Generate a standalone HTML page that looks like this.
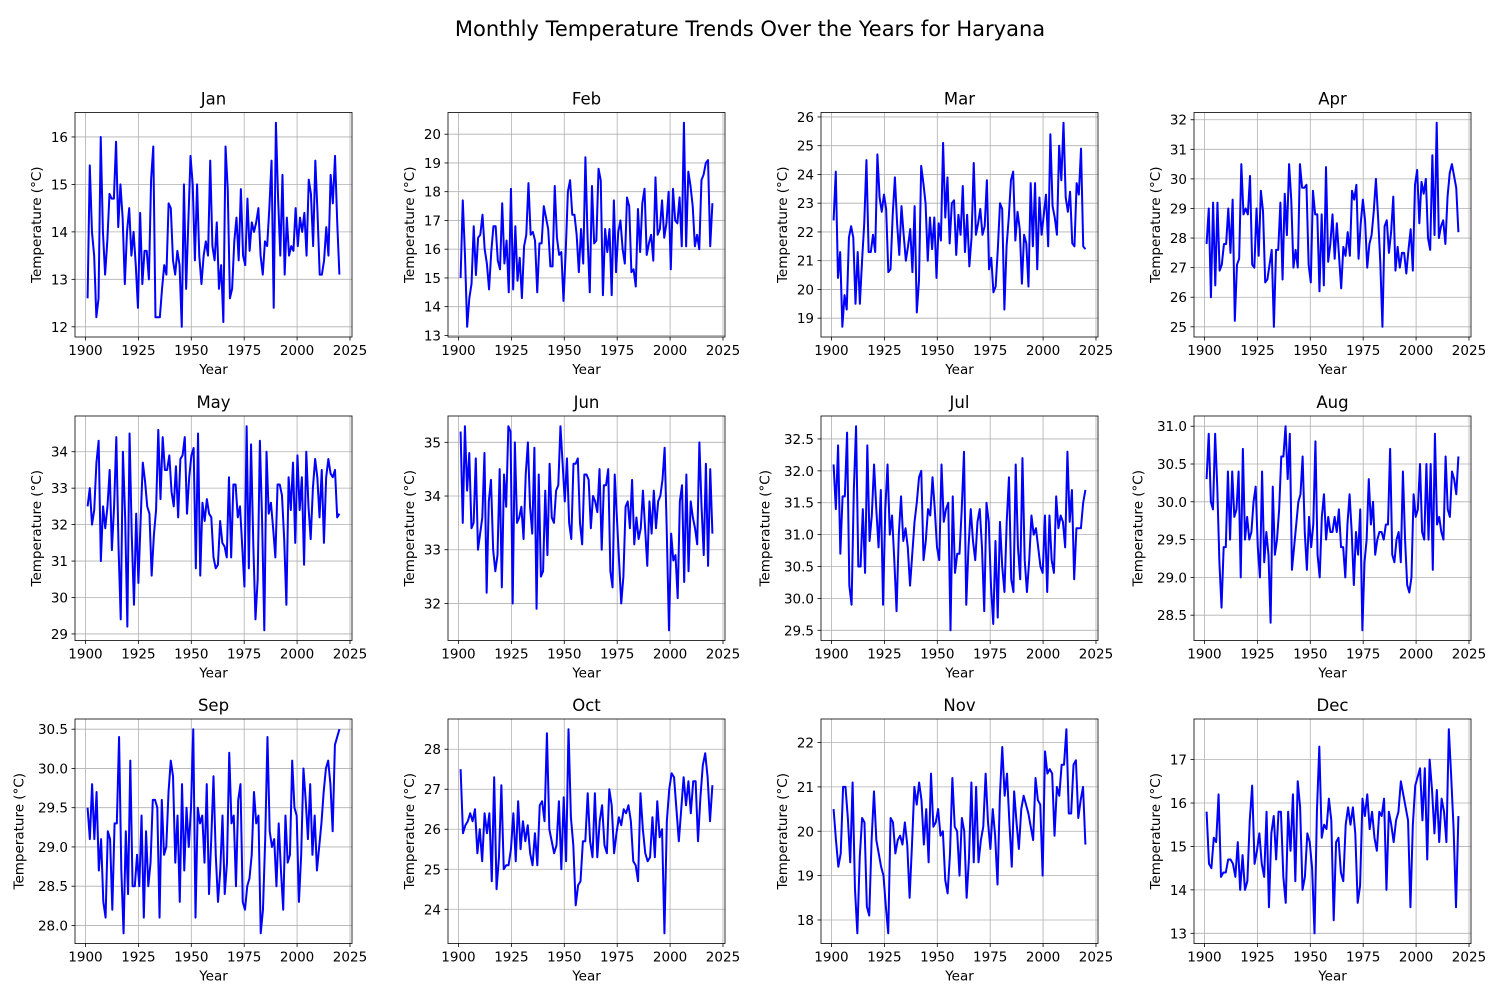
<!DOCTYPE html>
<html><head><meta charset="utf-8">
<style>
body{margin:0;background:#fff;}
svg{display:block;font-family:"DejaVu Sans","Liberation Sans",sans-serif;}
</style></head>
<body>
<svg id="fig" width="1500" height="1000" viewBox="0 0 1500 1000">
<rect width="1500" height="1000" fill="#fff"/>
<text x="750" y="36" text-anchor="middle" font-size="21" fill="#000">Monthly Temperature Trends Over the Years for Haryana</text>
</svg>
<script>
const months = ["Jan","Feb","Mar","Apr","May","Jun","Jul","Aug","Sep","Oct","Nov","Dec"];
const xTicks = [1900,1925,1950,1975,2000,2025];
const startYear = 1901;
const endYear = 2020;
const janVals = [12.6,15.4,14,13.5,12.2,12.6,16,14,13.1,13.8,14.8,14.7,14.7,15.9,14.1,15,14.3,12.9,14,14.5,13.5,14,13.3,12.4,14.4,12.9,13.6,13.6,13,15.1,15.8,12.2,12.2,12.2,12.8,13.3,13.1,14.6,14.5,13.4,13.1,13.6,13.3,12,15,12.8,14.2,15.6,15,13.4,15,13.5,12.9,13.5,13.8,13.5,15.5,13.7,13.4,14.2,12.8,13.3,12.1,15.8,14.9,12.6,12.8,13.8,14.3,13.4,14.9,13.5,13.3,14.7,13.6,14.2,14,14.2,14.5,13.5,13.1,13.8,13.7,14.5,15.5,12.4,16.3,14.7,13.5,15.2,13.1,14.3,13.5,13.7,13.6,14.5,13.7,14.3,14,14.4,13.5,15.1,14.8,13.7,15.5,14.4,13.1,13.1,13.4,14.1,13.5,15.2,14.6,15.6,14.2,13.1];
const febVals = [15,17.7,15.8,13.3,14.3,14.8,16.8,15.1,16.4,16.5,17.2,16,15.5,14.6,15.9,16.8,16.8,15.6,15.3,17.6,15.5,16.3,14.5,18.1,14.6,16.8,14.9,15.7,14.3,16.1,16.5,18.3,16.5,16.6,16.3,14.5,16.2,16.2,17.5,17.1,16.7,15.4,15.4,18.2,16.4,15.8,15.9,14.2,15.9,18,18.4,17.2,17.2,16.5,15.2,16.7,15.5,19.2,16.4,14.5,18.2,16.2,16.3,18.8,18.4,14.4,16.7,15.9,16.7,14.4,17.7,15.2,16.6,17,16,15.5,17.8,17.5,15.2,15.3,14.7,17.4,15.9,17.6,18.1,15.8,16.2,16.5,15.6,18.5,16.5,16.7,17.7,16.4,16.9,18,15.3,18.1,17,16.9,17.8,16.1,20.4,16.1,18.7,18.2,17.5,16.1,16.5,16,18.4,18.6,19,19.1,16.1,17.6];
const marVals = [22.4,24.1,20.4,21.3,18.7,19.8,19.3,21.8,22.2,21.8,19.5,21.3,19.5,21,22.3,24.5,21.3,21.3,21.9,21.3,24.7,23.2,22.7,23.3,22.8,20.6,20.7,22.6,23.9,22.3,21.2,22.9,21.9,21,21.5,22.1,20.6,22.9,19.2,20.3,24.3,23.7,23,21,22.5,21.4,22.5,20.4,22.3,21.7,25.1,22.5,23.9,21.6,23,23.1,21.2,22.6,21.9,23.6,21.3,22.6,20.8,21.8,24.4,21.9,22.3,22.8,21.9,22.2,23.8,20.7,21.1,19.9,20.1,21.4,23,22.8,19.3,21.5,22.5,23.8,24.1,21.7,22.7,22.1,20.2,21.9,21.6,20.1,23.7,21.5,23.7,20.7,23.2,21.9,22.6,23.3,21.5,25.4,22.9,22.5,21.9,25,23.8,25.8,23.2,22.7,23.4,21.6,21.5,23.7,23.3,24.9,21.5,21.4];
const aprVals = [27.8,29,26,29.2,26.4,29.2,26.9,27.1,27.8,27.8,29,27.5,29.3,25.2,27.1,27.3,30.5,28.8,29,28.8,30.1,27.1,27,29,27.4,29.6,28.9,26.5,26.6,27.1,27.6,25,27.6,27.6,29.2,26.6,29.5,28.1,30.5,29.3,27,27.6,27,30.5,29.7,29.7,29.8,27.1,26.5,29.6,28.8,28.8,26.2,28.8,26.4,30.4,27.2,27.8,28.8,27.3,28.5,27.4,26.3,27.7,27.4,28.2,27.4,29.6,29.3,29.8,27.3,28.5,29.3,28.6,27,27.8,28.1,28.9,30,28.7,27.2,25,28.4,28.6,27.5,28.2,29.4,26.9,27.7,27,27.5,27.5,26.8,27.6,28.3,26.9,29.8,30.3,28.5,29.9,29.5,30,28,27.6,30.8,28.1,31.9,28,28.4,28.6,27.8,29.4,30.2,30.5,30.1,29.7,28.2];
const mayVals = [32.5,33,32,32.4,33.7,34.3,31,32.5,31.9,32.5,33.5,31.3,32.5,34.4,31.4,29.4,34,32.2,29.2,34.5,31.7,29.8,32.3,30.4,32.1,33.7,33.2,32.5,32.3,30.6,31.7,32.4,34.6,32.7,34.4,33.5,33.5,33.9,32.9,32.5,33.6,32.2,33.8,33.9,34.4,32.3,33.3,33.9,34.1,30.8,34.5,30.6,32.6,32.1,32.7,32.3,32.2,31.1,30.8,30.9,32.1,31.5,31.4,31.1,33.3,31.1,33.1,33.1,32.2,32.5,31.4,30.3,34.7,30.8,34.2,31.5,29.4,30.5,34.3,32.1,29.1,34,32.3,32.6,31.9,31.1,33.1,33.1,32.8,31.6,29.8,33.3,32.4,33.7,31.5,33.9,32.4,33.3,30.9,34,32.5,31.6,33,33.8,33.3,32.2,33.5,31.5,33.3,33.8,33.4,33.3,33.5,32.2,32.3];
const junVals = [35.2,33.5,35.3,34.1,34.8,33.4,33.5,34.7,33,33.3,33.6,34.8,32.2,33.9,34.3,33,32.6,32.9,34.5,32.3,34.4,33.8,35.3,35.2,32,35,33.5,33.6,33.8,33.2,34.4,35,33.8,33.3,34.9,31.9,34.4,32.5,32.6,34.1,32.9,34.6,33.6,33.5,34.1,34.2,35.3,34.6,33.9,34.7,33.5,33.2,34.6,34.6,34.7,33.5,33.1,34.4,34.4,34.3,33.4,34,33.9,33.7,34.5,33,34.2,34.2,34.5,32.6,32.3,34.4,33.6,32.8,32,32.5,33.8,33.9,33.4,34.3,33.1,33.6,33.2,33.4,34.1,33.4,32.7,33.9,33.3,34.1,33.4,33.9,34,34.3,34.9,33.3,31.5,33.3,32.8,32.9,32.1,33.9,34.2,32.4,34.4,32.6,33.9,33.6,33.4,33.1,35,33.8,32.9,34.6,32.7,34.5,33.3];
const julVals = [32.1,31.4,32.4,30.7,31.6,31.6,32.6,30.2,29.9,31.7,32.7,30.5,30.5,31.4,30.4,32.4,30.9,31.3,32.1,31.4,30.8,31.7,29.9,31.4,32.1,31,31.3,30.6,29.8,31,31.6,30.9,31.1,30.8,30.2,30.7,31.2,31.5,31.9,32,30.6,30.9,31.4,31.3,31.9,31.4,30.8,30.6,32.1,31.2,31.4,31.5,29.5,31.6,30.4,30.7,30.7,31.4,32.3,29.9,30.8,31.4,30.9,30.6,31.2,31.4,30.8,29.8,31.5,31.2,30.2,29.6,30.9,29.7,31.2,30.5,30.1,31.2,31.9,30.3,30.1,32.1,30.8,30.3,32.2,30.6,30.1,30.6,31.3,31,31.1,30.8,30.5,30.4,31.3,30.1,31.3,30.6,30.4,31.6,31.1,31.3,31.2,30.8,32.3,31.2,31.7,30.3,31.1,31.1,31.1,31.5,31.7];
const augVals = [30.3,30.9,30,29.9,30.9,30.2,29.2,28.6,29.4,29.4,30.4,29.5,30.4,29.8,29.9,30.4,29,30.7,29.5,29.8,29.5,29.6,30,30.2,29.4,29,30.4,29.2,29.6,29.3,28.4,30.2,29.3,29.5,29.9,30.6,30.6,31,30.3,30.9,29.1,29.4,29.7,30,30.1,30.6,29.6,29.1,29.8,29.4,29.7,30.8,29.3,29,29.8,30.1,29.5,29.8,29.6,29.6,29.8,29.6,29.9,29.4,29.4,29,29.7,30.1,29.6,28.9,29.6,29.3,29.9,28.3,29.2,29.5,30.3,29.7,30,29.3,29.5,29.6,29.6,29.5,29.7,29.7,30.7,29.3,29.2,29.5,29.6,29.2,30.4,29.5,28.9,28.8,29,30.1,29.8,29.9,30.5,29.6,29.5,30.5,29.5,30.5,29.1,30.9,29.7,29.8,29.6,29.5,30.6,29.9,29.8,30.4,30.3,30.1,30.6];
const sepVals = [29.5,29.1,29.8,29.1,29.7,28.7,29.1,28.3,28.1,29.2,29.1,28.2,29.3,29.3,30.4,28.7,27.9,29.2,28.4,30.1,28.5,28.5,28.9,28.5,29.4,28.1,29.2,28.5,28.8,29.6,29.6,29.5,28.1,29.6,28.9,29,29.7,30.1,29.9,28.8,29.4,28.3,29.8,28.7,29.5,29,29.5,30.5,28.1,29.5,29.3,29.4,28.8,29.8,28.4,29.1,29.9,28.9,28.3,28.7,29.4,28.4,28.8,30.2,29.3,29.4,28.5,29.6,29.8,28.3,28.2,28.5,28.6,28.9,29.7,29.3,29.4,27.9,28.2,29.1,30.4,29.2,29,29.1,28.5,29.3,28.7,28.2,29.4,28.8,28.9,30.1,29.5,29.4,28.3,28.9,30,29.6,29.1,29.8,28.9,29.4,28.7,29,29.3,29.7,30,30.1,29.8,29.2,30.3,30.4,30.5];
const octVals = [27.5,25.9,26.1,26.2,26.4,26.2,26.5,25.4,26,25.2,26.4,25.9,26.4,24.7,27.3,24.5,25.3,27.1,25,25.1,25.1,25.5,26.4,25.2,26.7,25.5,26.2,25.7,26.1,25.4,25.1,25.9,25.1,26.6,26.7,26.2,28.4,26,25.7,25.4,25.6,26.7,25,26.8,25.2,28.5,26.3,25.6,24.1,24.6,24.7,25.7,25.7,26.9,25.7,25.3,26.9,25.3,26.2,26.6,25.6,25.4,27,26.6,25.4,25.9,26.3,26.1,26.5,26.4,26.6,26.2,25.2,25.1,24.7,26.9,26,25.4,25.2,25.3,26.3,25.3,26.7,25.8,26,23.4,26.2,27,27.4,27.3,26.5,25.7,26.5,27.3,26.6,27.2,26.4,27.2,27.2,25.7,26.8,27.6,27.9,27.3,26.2,27.1];
const novVals = [20.5,19.8,19.2,19.5,21,21,20.3,19.3,21.1,18.7,17.7,19.4,20.3,20.2,18.3,18.1,19.8,20.9,19.8,19.5,19.2,19,18.3,17.7,20.3,20.2,19.5,19.8,19.9,19.7,20.2,19.7,18.5,19.7,21,20.6,21.1,20.7,19.7,20.5,19.3,21.3,20.1,20.2,20.5,19.9,20,18.9,18.6,19.5,21.2,20.1,20,19,20.3,20,18.5,19.4,21.1,19.3,21,19.3,19.8,20.1,21.3,20.2,19.6,20.5,19.9,18.8,20.8,21.9,20.8,21.3,20.2,19.2,20.9,20.2,19.6,20.5,20.8,20.6,20.4,20.1,19.8,21.2,20.7,20.6,19,21.8,21.3,21.4,21.3,19.9,21,20.8,21.5,21.5,22.3,20.4,20.4,21.5,21.6,20.3,20.7,21,19.7];
const decVals = [15.8,14.6,14.5,15.2,15.1,16.2,14.3,14.4,14.4,14.7,14.7,14.6,14.3,15.1,14,14.8,14,14.2,15.6,16.4,14.6,14.9,15.3,14.6,14.3,15.8,13.6,15.3,15.7,14.7,15.8,15.8,14.3,13.7,15.8,14.9,16.2,14.2,16.5,15.9,14,14.3,15.3,15.1,14.5,13,15.8,17.3,15.2,15.5,15.4,16.1,15.6,13.3,15.1,15.2,14.4,14.2,15.5,15.9,15.5,15.9,15.3,13.7,14.1,16.1,15.7,16.2,15.4,15.8,15.2,14.9,15.8,15.7,16.1,14,15.8,15.5,15.1,15.6,15.8,16.5,16.2,15.9,15.6,13.6,15.5,16.4,16.6,16.8,15.6,16.8,14.7,17,16.3,15.3,16.3,15.1,16.1,15.8,15.1,17.7,16.6,15.4,13.6,15.7];
const janTicks = ["12","13","14","15","16"];
const febTicks = ["13","14","15","16","17","18","19","20"];
const marTicks = ["19","20","21","22","23","24","25","26"];
const aprTicks = ["25","26","27","28","29","30","31","32"];
const mayTicks = ["29","30","31","32","33","34","35"];
const junTicks = ["32","33","34","35"];
const julTicks = ["29.5","30.0","30.5","31.0","31.5","32.0","32.5"];
const augTicks = ["28.5","29.0","29.5","30.0","30.5","31.0"];
const sepTicks = ["28.0","28.5","29.0","29.5","30.0","30.5"];
const octTicks = ["24","25","26","27","28"];
const novTicks = ["18","19","20","21","22"];
const decTicks = ["13","14","15","16","17"];

const allVals = [janVals,febVals,marVals,aprVals,mayVals,junVals,julVals,augVals,sepVals,octVals,novVals,decVals];
const allTicks = [janTicks,febTicks,marTicks,aprTicks,mayTicks,junTicks,julTicks,augTicks,sepTicks,octTicks,novTicks,decTicks];

const NS = "http://www.w3.org/2000/svg";
const svg = document.getElementById("fig");
function mk(tag, attrs, parent){
  const e = document.createElementNS(NS, tag);
  for (const k in attrs) e.setAttribute(k, attrs[k]);
  parent.appendChild(e);
  return e;
}
const colX = [75,448,821,1194];
const rowY = [112.5,416,719];
const W = 277, H = 224.5;

months.forEach((m, i) => {
  const vals = allVals[i];
  const ticks = allTicks[i];
  const L = colX[i % 4], T = rowY[Math.floor(i / 4)];
  const g = mk("g", {}, svg);
  
  
  const n = vals.length;
  const xr = endYear - startYear;
  const x0 = startYear - 0.05 * xr, x1 = endYear + 0.05 * xr;
  const yearOf = k => startYear + k * xr / (n - 1);
  const mn = Math.min(...vals), mx = Math.max(...vals);
  const yr = mx - mn;
  const y0 = mn - 0.05 * yr, y1 = mx + 0.05 * yr;
  const sx = v => L + (v - x0) / (x1 - x0) * W;
  const sy = v => T + H - (v - y0) / (y1 - y0) * H;
  xTicks.forEach(t => {
    const x = sx(t);
    if (x < L - 0.5 || x > L + W + 0.5) return;
    mk("line", {x1:x, x2:x, y1:T, y2:T+H, stroke:"#b0b0b0", "stroke-width":0.8}, g);
    mk("line", {x1:x, x2:x, y1:T+H, y2:T+H+3.5, stroke:"#000", "stroke-width":0.8}, g);
    const tx = mk("text", {x:x, y:T+H+18, "text-anchor":"middle", "font-size":13.5, fill:"#000"}, g);
    tx.textContent = t;
    
    
  });
  ticks.forEach(t => {
    const y = sy(parseFloat(t));
    if (y < T - 0.5 || y > T + H + 0.5) return;
    mk("line", {x1:L, x2:L+W, y1:y, y2:y, stroke:"#b0b0b0", "stroke-width":0.8}, g);
    mk("line", {x1:L-3.5, x2:L, y1:y, y2:y, stroke:"#000", "stroke-width":0.8}, g);
    const ty = mk("text", {x:L-7, y:y+5, "text-anchor":"end", "font-size":13.5, fill:"#000"}, g);
    ty.textContent = t;
    
    
  });
  const pts = vals.map((v, k) => sx(yearOf(k)).toFixed(2) + "," + sy(v).toFixed(2)).join(" ");
  const pl = mk("polyline", {points:pts, fill:"none", stroke:"#0000ff", "stroke-width":2, "stroke-linejoin":"round"}, g);
  
  
  mk("rect", {x:L, y:T, width:W, height:H, fill:"none", stroke:"#000", "stroke-width":0.8}, g);
  const tt = mk("text", {x:L+W/2, y:T-8, "text-anchor":"middle", "font-size":16.5, fill:"#000"}, g);
  tt.textContent = m;
  
  
  const xl = mk("text", {x:L+W/2, y:T+H+37, "text-anchor":"middle", "font-size":13.5, fill:"#000"}, g);
  xl.textContent = "Year";
  
  
  const maxLen = Math.max(...ticks.map(s => s.length));
  const ylx = L - 7 - maxLen * 8.6 - 10;
  const yl = mk("text", {x:ylx, y:T+H/2, "text-anchor":"middle", "font-size":13.5, fill:"#000", transform:`rotate(-90 ${ylx} ${T+H/2})`}, g);
  yl.textContent = "Temperature (°C)";
  
  
});
</script>
</body></html>
